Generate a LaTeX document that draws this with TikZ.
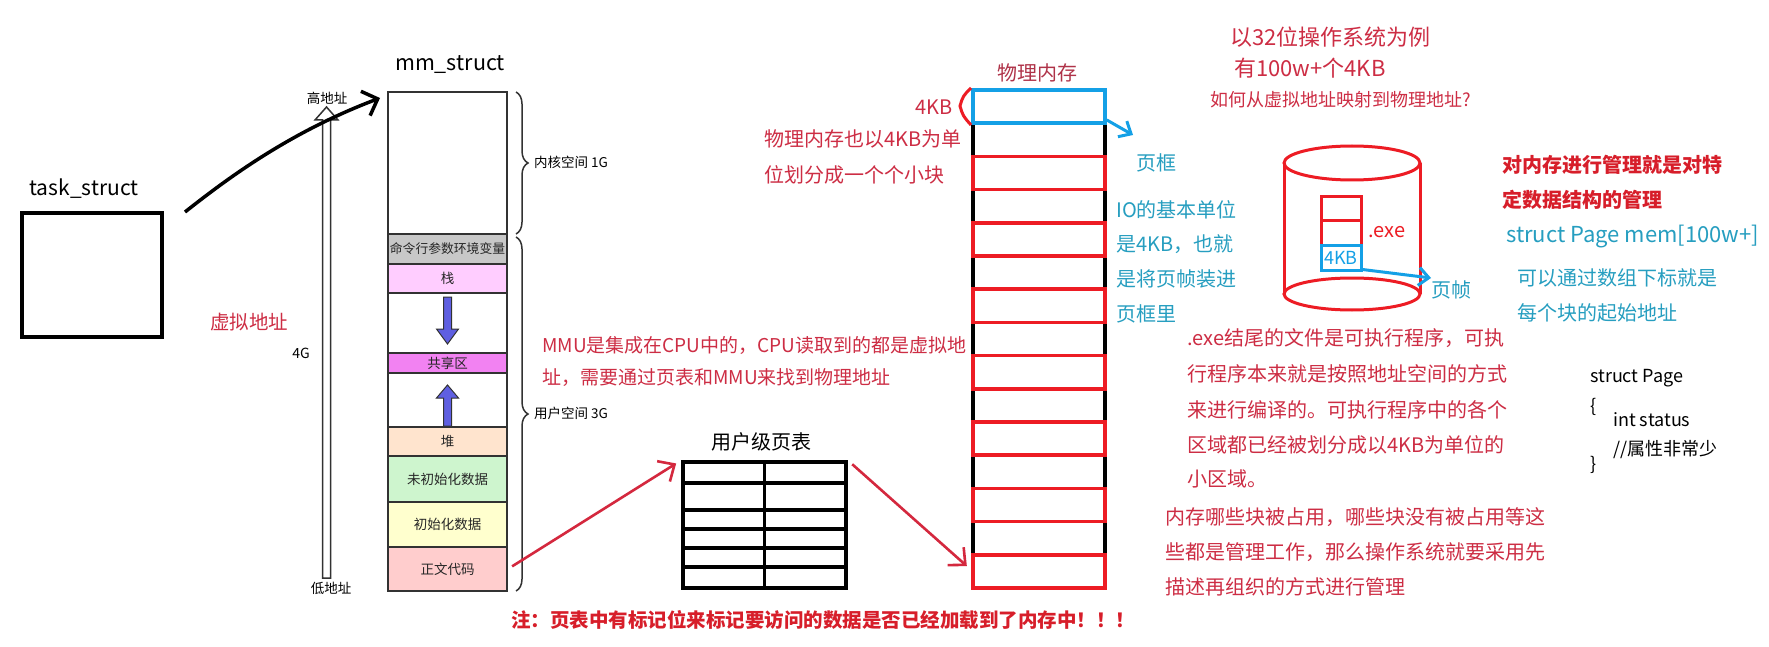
\documentclass[tikz,border=0pt]{standalone}
\usepackage{fontspec}
\setmainfont{Noto Sans CJK SC}
\usetikzlibrary{arrows.meta,decorations.pathreplacing,calc}

\definecolor{txtred}{RGB}{205,45,68}
\definecolor{darkred}{RGB}{175,50,72}
\definecolor{boldred}{RGB}{215,30,42}
\definecolor{tealtxt}{RGB}{38,158,192}
\definecolor{lineblue}{RGB}{20,160,230}
\definecolor{linered}{RGB}{237,28,36}
\definecolor{arrred}{RGB}{212,40,62}
\definecolor{segline}{RGB}{50,50,50}
\definecolor{arrowblue}{RGB}{95,95,225}
\definecolor{cgray}{RGB}{200,200,200}
\definecolor{cpink}{RGB}{255,205,255}
\definecolor{cmag}{RGB}{242,130,242}
\definecolor{cpeach}{RGB}{255,228,206}
\definecolor{cgreen}{RGB}{206,245,206}
\definecolor{cyellow}{RGB}{255,255,206}
\definecolor{csalmon}{RGB}{255,205,205}

\newcommand{\fsz}[1]{\fontsize{#1}{#1}\selectfont}

\begin{document}
\begin{tikzpicture}[x=1pt,y=-1pt,
  txt/.style={inner sep=0, anchor=west},
  redtxt/.style={txt, text=txtred, font=\fsz{20}},
  tltxt/.style={txt, text=tealtxt, font=\fsz{20}},
  seg/.style={draw=segline, line width=1.8, minimum width=119, inner sep=0, font=\fsz{13.5}, text=black!85},
  pmrow/.style={inner sep=0, minimum width=132, minimum height=33.2},
  pmred/.style={pmrow, draw=linered, line width=3.5},
  pmblue/.style={pmrow, draw=lineblue, line width=3.5},
  redarrow/.style={draw=arrred, line width=2.6, -{Straight Barb[length=13pt,width=24pt]}},
  bluearrow/.style={draw=lineblue, line width=3, -{Straight Barb[length=10pt,width=18pt]}},
  smallbox/.style={inner sep=0, minimum width=40, line width=3},
  codetxt/.style={txt, font=\fsz{18}, text=black}
]
\useasboundingbox (0,0) rectangle (1769,647);
\fill[white] (0,0) rectangle (1769,647);

% ---------- task_struct ----------
\node[font=\fsz{21}, inner sep=0] (tasklbl) at (84,189) {task\_struct};
\node[draw, line width=3.5, minimum width=140, minimum height=124, inner sep=0] (task) at (92,275) {};
\node[redtxt, font=\fsz{19.5}] (virt) at (210,322) {虚拟地址};

% ---------- address arrow ----------
\draw[draw=segline, line width=1.5, fill=white]
  (322.5,578) -- (322.5,120) -- (315,120) -- (326.5,107) -- (338,120) -- (330.5,120) -- (330.5,578) -- cycle;
\node[font=\fsz{13.5}, inner sep=0] (hi) at (327,98) {高地址};
\node[font=\fsz{13.5}, inner sep=0] (lo) at (331,588) {低地址};
\node[font=\fsz{14}, inner sep=0] (fourg) at (301,353) {4G};

% ---------- mm_struct ----------
\node[font=\fsz{21.5}, inner sep=0] (mmlbl) at (450,65) {mm\_struct};
\node[seg, minimum height=142] (kern) at (447.5,163) {};
\node[seg, minimum height=30, fill=cgray, font=\fsz{12.8}] (cmd) at (447.5,249) {命令行参数环境变量};
\node[seg, minimum height=29, fill=cpink] (stack) at (447.5,278.5) {栈};
\node[seg, minimum height=60] (gap1) at (447.5,323) {};
\node[seg, minimum height=20, fill=cmag] (shared) at (447.5,363) {共享区};
\node[seg, minimum height=54] (gap2) at (447.5,400) {};
\node[seg, minimum height=29, fill=cpeach] (heap) at (447.5,441.5) {堆};
\node[seg, minimum height=46, fill=cgreen] (bss) at (447.5,479) {未初始化数据};
\node[seg, minimum height=45, fill=cyellow] (data) at (447.5,524.5) {初始化数据};
\node[seg, minimum height=44, fill=csalmon] (text) at (447.5,569) {正文代码};

\filldraw[fill=arrowblue, draw=segline, line width=1]
  (443.5,297) -- (451.5,297) -- (451.5,329) -- (458.5,329) -- (447.5,344) -- (436.5,329) -- (443.5,329) -- cycle;
\filldraw[fill=arrowblue, draw=segline, line width=1]
  (443.5,426) -- (451.5,426) -- (451.5,398) -- (458.5,398) -- (447.5,385) -- (436.5,398) -- (443.5,398) -- cycle;

\draw[segline, line width=1.5, decorate, decoration={brace, amplitude=12pt}] (516,92) -- (516,234);
\draw[segline, line width=1.5, decorate, decoration={brace, amplitude=12pt}] (516,237) -- (516,591);
\node[txt, font=\fsz{13.5}] (kernlbl) at (534,162) {内核空间 1G};
\node[txt, font=\fsz{13.5}] (userlbl) at (534,413) {用户空间 3G};

% task -> mm arrow
\coordinate (c0) at (185,212);
\coordinate (c1) at (380,98);
\draw[line width=3.5, -{Straight Barb[length=13pt,width=26pt]}] (c0) .. controls (228,178) and (290,132) .. (c1);

% ---------- MMU text ----------
\node[redtxt, font=\fsz{19}] (mmu1) at (542,345) {MMU是集成在CPU中的，CPU读取到的都是虚拟地};
\node[redtxt, font=\fsz{19}] (mmu2) at (542,378) {址，需要通过页表和MMU来找到物理地址};

% ---------- page table ----------
\node[font=\fsz{20}, inner sep=0] (ptlbl) at (761,442) {用户级页表};
\node[draw, line width=3.5, minimum width=163, minimum height=126, inner sep=0] (ptab) at (764.5,525) {};
\draw[line width=3.5] (ptab.north) -- (ptab.south);
\foreach \yy in {483,510,529,548,567}
  \draw[line width=3.5] (ptab.west |- 0,\yy) -- (ptab.east |- 0,\yy);

% ---------- physical memory ----------
\node[text=darkred, font=\fsz{20}, inner sep=0] (pmlbl) at (1037,73) {物理内存};
\node[draw, line width=3.5, minimum width=132, minimum height=498, inner sep=0] (pmcol) at (1039,339) {};
\foreach \i in {1,...,15}
  \node[pmrow] (pm\i) at (1039,{90+33.2*(\i-0.5)}) {};
\foreach \i in {3,5,...,15}
  \node[pmred] at (pm\i) {};
\node[pmblue] (pmb) at (pm1) {};

\draw[linered, line width=3] (971,88) .. controls (963,96) .. (960,106) .. controls (963,116) .. (971,125);
\node[redtxt] (kb) at (915,107) {4KB};
\node[redtxt] (pm1t) at (764,139) {物理内存也以4KB为单};
\node[redtxt] (pm2t) at (764,175) {位划分成一个个小块};

\coordinate (bt) at (1133,135);
\draw[bluearrow] ($(pmb.south east)+(0,-5)$) -- (bt);
\node[tltxt] (frame) at (1136,163) {页框};
\node[tltxt] (io1) at (1116,210) {IO的基本单位};
\node[tltxt] (io2) at (1116,244) {是4KB，也就};
\node[tltxt] (io3) at (1116,279) {是将页帧装进};
\node[tltxt] (io4) at (1116,314) {页框里};

% red arrows via page table
\draw[redarrow, shorten <=5pt, shorten >=6pt] (text.east) -- (ptab.north west);
\draw[redarrow, shorten <=6pt, shorten >=8pt] (ptab.north east) -- (pm15.west);

% ---------- top right ----------
\node[redtxt, font=\fsz{22}] (t1) at (1230,37) {以32位操作系统为例};
\node[redtxt, font=\fsz{22}] (t2) at (1234,68) {有100w+个4KB};
\node[redtxt, font=\fsz{18}] (t3) at (1210,100) {如何从虚拟地址映射到物理地址?};

% cylinder
\draw[linered, line width=3] (1352,163) ellipse [x radius=68, y radius=17];
\draw[linered, line width=3] (1284,163) -- (1284,294);
\draw[linered, line width=3] (1420,163) -- (1420,294);
\draw[linered, line width=3] (1352,294) ellipse [x radius=68, y radius=16];
\node[smallbox, draw=linered, minimum height=24] (e1) at (1341,209) {};
\node[smallbox, draw=linered, minimum height=24] (e2) at (1341,233) {};
\node[smallbox, draw=lineblue, minimum height=25, text=lineblue, font=\fsz{18}] (e3) at (1341,257.5) {4KB};
\node[txt, text=linered, font=\fsz{20}] (exe) at (1368,232) {.exe};
\coordinate (bt2) at (1431,278);
\draw[bluearrow] ($(e3.south east)+(0,-2)$) -- (bt2);
\node[tltxt] (pf) at (1431,290) {页帧};

\node[txt, text=boldred, font=\fsz{20}\bfseries] (b1) at (1502,165) {对内存进行管理就是对特};
\node[txt, text=boldred, font=\fsz{20}\bfseries] (b2) at (1502,200) {定数据结构的管理};
\node[tltxt, font=\fsz{22}] (sp) at (1506,237) {struct Page mem[100w+]};
\node[tltxt] (k1) at (1517,278) {可以通过数组下标就是};
\node[tltxt] (k2) at (1517,313) {每个块的起始地址};

% exe paragraph
\node[redtxt] (p1) at (1187,338) {.exe结尾的文件是可执行程序，可执};
\node[redtxt] (p2) at (1187,374) {行程序本来就是按照地址空间的方式};
\node[redtxt] (p3) at (1187,410) {来进行编译的。可执行程序中的各个};
\node[redtxt] (p4) at (1187,445) {区域都已经被划分成以4KB为单位的};
\node[redtxt] (p5) at (1187,479) {小区域。};

\node[redtxt] (q1) at (1165,517) {内存哪些块被占用，哪些块没有被占用等这};
\node[redtxt] (q2) at (1165,552) {些都是管理工作，那么操作系统就要采用先};
\node[redtxt] (q3) at (1165,587) {描述再组织的方式进行管理};

% struct Page code
\node[codetxt] (s1) at (1590,378) {struct Page};
\node[codetxt] (s2) at (1590,407) {\{};
\node[codetxt] (s3) at (1613,420) {int status};
\node[codetxt] (s4) at (1613,450) {//属性非常少};
\node[codetxt] (s5) at (1590,465) {\}};

% bottom note
\node[txt, text=boldred, font=\fsz{19.5}\bfseries] (note) at (511,620) {注：页表中有标记位来标记要访问的数据是否已经加载到了内存中！！！};
\end{tikzpicture}
\end{document}
